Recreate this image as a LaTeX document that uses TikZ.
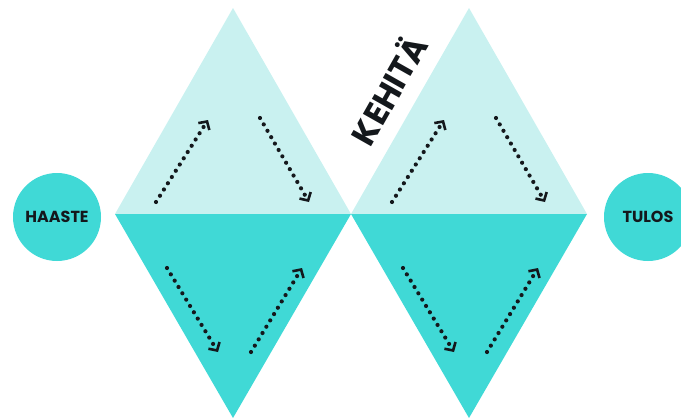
\documentclass[tikz,border=0pt]{standalone}
\usepackage{fontspec}
\setmainfont{Poppins}
\usetikzlibrary{arrows.meta,positioning}
\definecolor{pale}{RGB}{201,241,240}
\definecolor{turq}{RGB}{64,217,214}
\definecolor{ink}{RGB}{20,24,28}
\begin{document}
\begin{tikzpicture}[x=1pt,y=-1pt]
\tikzstyle{C}=[circle,fill=turq,minimum size=88pt,inner sep=0pt,
text=ink,font=\bfseries\fontsize{16}{16}\selectfont]
\tikzstyle{A}=[draw=ink,line width=4.2pt,line cap=round,dash pattern=on 0pt off 7.4pt,
-{Straight Barb[length=6pt,width=13pt,line width=2.6pt]}]
\useasboundingbox (0,0) rectangle (681,418);
\foreach \dx/\n in {0/1,236/2}{
\begin{scope}[xshift=\dx pt]
\fill[pale] (115,214) -- (233,8) -- (351,214) -- cycle;
\fill[turq] (115,214) -- (233,418) -- (351,214) -- cycle;
% arrows inside the halves
\coordinate (up\n a) at (156,202); \coordinate (up\n b) at (208,120);
\coordinate (up\n c) at (260,118); \coordinate (up\n d) at (309,202);
\coordinate (lo\n a) at (167,268); \coordinate (lo\n b) at (218,352);
\coordinate (lo\n c) at (251,352); \coordinate (lo\n d) at (302,268);
\draw[A] (up\n a) -- (up\n b);
\draw[A] (up\n c) -- (up\n d);
\draw[A] (lo\n a) -- (lo\n b);
\draw[A] (lo\n c) -- (lo\n d);
\end{scope}
}
\node[C] (haaste) at (57,217) {HAASTE};
\node[C] (tulos) at (648,217) {TULOS};
\node[rotate=60.5,text=ink,font=\bfseries\fontsize{33}{33}\selectfont] (kehita) at (387,89) {KEHITÄ};
\end{tikzpicture}
\end{document}
